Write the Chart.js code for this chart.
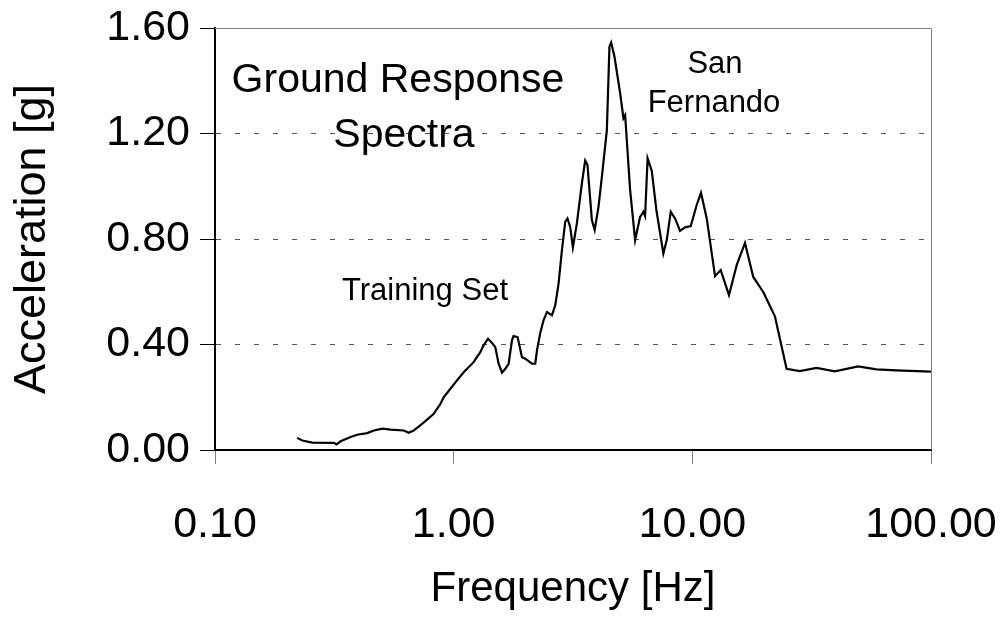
<!DOCTYPE html>
<html>
<head>
<meta charset="utf-8">
<script src="https://cdn.jsdelivr.net/npm/chart.js@4.4.1/dist/chart.umd.min.js"></script>
<style>
  html, body { margin: 0; padding: 0; background: #fff; }
</style>
</head>
<body>
<canvas id="spectra" width="1002" height="622"></canvas>
<script>
// tick values
const xTicks = [0.1, 1, 10, 100];
const yTicks = [0, 0.4, 0.8, 1.2, 1.6];

// San Fernando response spectrum
const freq = [
  0.221, 0.232, 0.256, 0.315, 0.323, 0.336, 0.370, 0.394, 0.434, 0.463,
  0.502, 0.544, 0.618, 0.648, 0.680, 0.714, 0.774, 0.825, 0.880, 0.908,
  0.969, 1.033, 1.101, 1.212, 1.293, 1.335, 1.393, 1.448, 1.494, 1.543,
  1.594, 1.646, 1.699, 1.755, 1.782, 1.853, 1.933, 1.995, 2.128, 2.197,
  2.234, 2.306, 2.380, 2.459, 2.581, 2.665, 2.751, 2.842, 2.934, 2.999,
  3.078, 3.159, 3.283, 3.445, 3.556, 3.636, 3.794, 3.898, 4.044, 4.178,
  4.384, 4.495, 4.569, 4.717, 4.983, 5.144, 5.229, 5.486, 5.758, 6.042,
  6.237, 6.340, 6.495, 6.762, 7.069, 7.561, 7.813, 8.121, 8.465, 8.882,
  9.322, 9.847, 10.43, 10.87, 11.49, 12.45, 13.15, 14.24, 15.34, 16.62,
  18.00, 19.82, 22.18, 24.83, 28.22, 33.15, 39.54, 49.52, 59.09, 71.65,
  100
];
const accel = [
  0.046, 0.036, 0.028, 0.027, 0.021, 0.033, 0.049, 0.058, 0.064, 0.074,
  0.081, 0.077, 0.074, 0.065, 0.074, 0.089, 0.115, 0.137, 0.175, 0.200,
  0.232, 0.264, 0.295, 0.333, 0.371, 0.397, 0.422, 0.406, 0.390, 0.327,
  0.293, 0.308, 0.327, 0.416, 0.432, 0.428, 0.352, 0.346, 0.327, 0.327,
  0.378, 0.444, 0.492, 0.523, 0.511, 0.549, 0.631, 0.758, 0.865, 0.878,
  0.846, 0.768, 0.859, 1.011, 1.097, 1.081, 0.872, 0.834, 0.922, 1.036,
  1.213, 1.530, 1.545, 1.492, 1.353, 1.258, 1.270, 0.986, 0.796, 0.884,
  0.903, 0.887, 1.106, 1.058, 0.910, 0.745, 0.796, 0.903, 0.878, 0.831,
  0.844, 0.849, 0.929, 0.975, 0.878, 0.659, 0.682, 0.587, 0.701, 0.785,
  0.656, 0.599, 0.507, 0.308, 0.299, 0.311, 0.298, 0.317, 0.306, 0.302,
  0.297
];

const FONT = "'Liberation Sans', Arial, sans-serif";
Chart.defaults.font.family = FONT;
Chart.defaults.color = "#000";

const points = freq.map((f, i) => ({ x: f, y: accel[i] }));

// frame on top/right + the text boxes inside the plot
const extras = {
  id: "extras",
  beforeDatasetsDraw(chart) {
    const { ctx, chartArea: a } = chart;
    ctx.save();
    ctx.strokeStyle = "#808080";
    ctx.lineWidth = 1;
    ctx.beginPath();
    ctx.moveTo(a.left, a.top + 0.5);
    ctx.lineTo(a.right + 0.5, a.top + 0.5);
    ctx.lineTo(a.right + 0.5, a.bottom);
    ctx.stroke();
    ctx.restore();
  },
  afterDraw(chart) {
    const ctx = chart.ctx;
    ctx.save();
    ctx.fillStyle = "#000";
    ctx.textAlign = "center";
    ctx.textBaseline = "alphabetic";
    ctx.font = "41px " + FONT;
    ctx.fillText("Ground Response", 398, 92);
    ctx.fillText("Spectra", 404, 147);
    ctx.font = "31px " + FONT;
    ctx.fillText("Training Set", 425, 300);
    ctx.fillText("San", 715, 73);
    ctx.fillText("Fernando", 714, 112);
    ctx.restore();
  }
};

new Chart(document.getElementById("spectra"), {
  type: "line",
  data: {
    datasets: [{
      data: points,
      borderColor: "#000",
      borderWidth: 2.2,
      pointRadius: 0,
      fill: false,
      tension: 0
    }]
  },
  options: {
    responsive: false,
    animation: false,
    layout: { padding: { top: 28, right: 71, left: 0, bottom: 0 } },
    plugins: { legend: { display: false }, tooltip: { enabled: false } },
    scales: {
      x: {
        type: "logarithmic",
        min: 0.1,
        max: 100,
        afterBuildTicks: s => { s.ticks = xTicks.map(v => ({ value: v })); },
        afterFit: s => { s.height = 172; s.paddingLeft = 0; s.paddingRight = 0; },
        ticks: {
          autoSkip: false,
          maxRotation: 0,
          padding: 35,
          font: { size: 43 },
          callback: v => Number(v).toFixed(2)
        },
        grid: { drawOnChartArea: false, drawTicks: true, tickLength: 14, tickColor: "#808080", tickWidth: 1 },
        border: { color: "#000", width: 2 },
        title: { display: true, text: "Frequency [Hz]", font: { size: 42 }, padding: { top: 0, bottom: 7 } }
      },
      y: {
        min: 0,
        max: 1.6,
        afterBuildTicks: s => { s.ticks = yTicks.map(v => ({ value: v })); },
        afterFit: s => { s.width = 215; s.paddingTop = 0; s.paddingBottom = 0; },
        ticks: {
          padding: 10,
          font: { size: 43 },
          callback: v => Number(v).toFixed(2)
        },
        grid: {
          color: c => (c.tick && c.tick.value === 0 ? "rgba(0,0,0,0)" : "#555"),
          lineWidth: 1,
          drawTicks: true,
          tickLength: 15,
          tickColor: "#000",
          tickWidth: 1,
          tickBorderDash: []
        },
        border: { color: "#000", width: 2, dash: [5, 14] },
        title: { display: true, text: "Acceleration [g]", font: { size: 45 }, padding: { top: 6, bottom: 0 } }
      }
    }
  },
  plugins: [extras]
});
</script>
</body>
</html>
